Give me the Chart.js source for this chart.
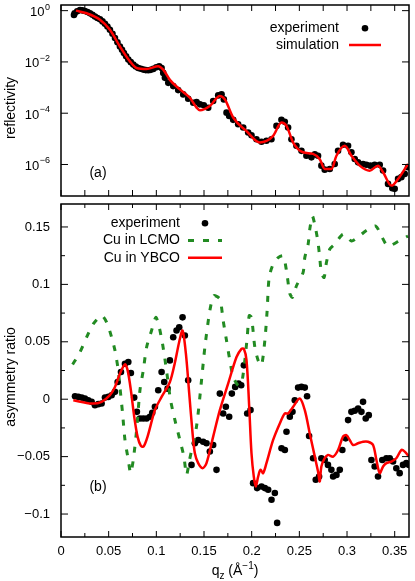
<!DOCTYPE html>
<html>
<head>
<meta charset="utf-8">
<script src="https://cdn.jsdelivr.net/npm/chart.js@4"></script>
<style>
  body { margin: 0; background: #fff; }
  canvas { position: absolute; left: 0; }
  #refl { top: 0; }
  #asym { top: 200px; }
</style>
</head>
<body>
<canvas id="refl" width="415" height="200"></canvas>
<canvas id="asym" width="415" height="381"></canvas>
<script>
// panel (a): reflectivity
const reflExpQ = [0.0136, 0.0143, 0.0170, 0.0199, 0.0225, 0.0251, 0.0278, 0.0304, 0.0330, 0.0356, 0.0382, 0.0409, 0.0435, 0.0461, 0.0487, 0.0513, 0.0540, 0.0566, 0.0592, 0.0618, 0.0640, 0.0660, 0.0683, 0.0706, 0.0732, 0.0758, 0.0784, 0.0810, 0.0837, 0.0863, 0.0889, 0.0915, 0.0941, 0.0968, 0.1000, 0.1030, 0.1055, 0.1072, 0.1090, 0.1125, 0.1177, 0.1229, 0.1282, 0.1334, 0.1387, 0.1422, 0.1457, 0.1498, 0.1544, 0.1596, 0.1649, 0.1684, 0.1708, 0.1736, 0.1764, 0.1806, 0.1858, 0.1911, 0.1963, 0.1998, 0.2050, 0.2103, 0.2155, 0.2207, 0.2260, 0.2312, 0.2347, 0.2382, 0.2417, 0.2469, 0.2522, 0.2574, 0.2627, 0.2662, 0.2696, 0.2731, 0.2766, 0.2819, 0.2871, 0.2906, 0.2958, 0.3011, 0.3046, 0.3081, 0.3116, 0.3168, 0.3203, 0.3245, 0.3290, 0.3343, 0.3378, 0.3430, 0.3475, 0.3500, 0.3535, 0.3570, 0.3605, 0.3640];
const reflExpR = [0.68, 0.79, 0.95, 1.06, 1.02, 0.97, 0.88, 0.79, 0.69, 0.59, 0.52, 0.46, 0.38, 0.305, 0.24, 0.179, 0.125, 0.085, 0.058, 0.040, 0.030, 0.0223, 0.0165, 0.0123, 0.0098, 0.00785, 0.0066, 0.00583, 0.0054, 0.00503, 0.0048, 0.00474, 0.0049, 0.00534, 0.0062, 0.00678, 0.00583, 0.00374, 0.00239, 0.00153, 0.00114, 7.96e-4, 5.41e-4, 3.67e-4, 2.57e-4, 2.73e-4, 2.21e-4, 2.03e-4, 1.64e-4, 2.98e-4, 4.94e-4, 5.41e-4, 3.46e-4, 1.05e-4, 7.8e-5, 5.5e-5, 3.7e-5, 2.76e-5, 1.77e-5, 1.39e-5, 9.7e-6, 7.7e-6, 8.4e-6, 9.7e-6, 3.2e-5, 5.5e-5, 4.6e-5, 2.76e-5, 9.7e-6, 5.4e-6, 3.4e-6, 2.2e-6, 1.9e-6, 2.5e-6, 2.2e-6, 9.0e-7, 6.3e-7, 6.7e-7, 1.04e-6, 3.4e-6, 5.9e-6, 5.4e-6, 3.0e-6, 1.63e-6, 1.21e-6, 1.04e-6, 9.8e-7, 9.0e-7, 9.8e-7, 9.8e-7, 5.8e-7, 1.75e-7, 1.19e-7, 1.12e-7, 2.74e-7, 3.2e-7, 4.3e-7, 7.8e-7];
const reflSimQ = [0.0157, 0.0269, 0.0409, 0.0513, 0.0618, 0.0723, 0.0793, 0.0898, 0.1020, 0.1072, 0.1142, 0.1247, 0.1352, 0.1422, 0.1457, 0.1561, 0.1666, 0.1718, 0.1806, 0.1946, 0.2085, 0.2155, 0.2225, 0.2313, 0.2365, 0.2435, 0.2539, 0.2644, 0.2714, 0.2767, 0.2837, 0.2889, 0.2976, 0.3046, 0.3133, 0.3238, 0.3325, 0.3378, 0.3465, 0.3535, 0.3640];
const reflSimR = [1.0, 0.79, 0.44, 0.18, 0.040, 0.0105, 0.0058, 0.0053, 0.0068, 0.0050, 0.0020, 8.5e-4, 4.0e-4, 1.65e-4, 1.3e-4, 1.9e-4, 4.7e-4, 3.5e-4, 6.8e-5, 2.0e-5, 7.2e-6, 8.3e-6, 1.3e-5, 4.3e-5, 3.2e-5, 7.2e-6, 3.0e-6, 2.6e-6, 1.6e-6, 6.7e-7, 6.7e-7, 2.2e-6, 5.4e-6, 2.2e-6, 9.0e-7, 5.7e-7, 9.0e-7, 5.0e-7, 1.5e-7, 2.7e-7, 1.05e-6];

// panel (b): asymmetry ratio
const asymExpQ = [0.0147, 0.0182, 0.0217, 0.0251, 0.0286, 0.0321, 0.0356, 0.0391, 0.0426, 0.0461, 0.0496, 0.0531, 0.0566, 0.0594, 0.0629, 0.0671, 0.0706, 0.0733, 0.0768, 0.0796, 0.0828, 0.0863, 0.0898, 0.0933, 0.0957, 0.0985, 0.1020, 0.1055, 0.1083, 0.1118, 0.1142, 0.1177, 0.1212, 0.1240, 0.1275, 0.1299, 0.1334, 0.1369, 0.1404, 0.1439, 0.1491, 0.1526, 0.1561, 0.1596, 0.1631, 0.1666, 0.1701, 0.1729, 0.1764, 0.1792, 0.1827, 0.1862, 0.1890, 0.1918, 0.1953, 0.1988, 0.2015, 0.2057, 0.2103, 0.2138, 0.2173, 0.2208, 0.2243, 0.2267, 0.2313, 0.2348, 0.2365, 0.2400, 0.2428, 0.2452, 0.2487, 0.2522, 0.2557, 0.2581, 0.2602, 0.2644, 0.2672, 0.2707, 0.2731, 0.2766, 0.2800, 0.2836, 0.2854, 0.2889, 0.2924, 0.2951, 0.2986, 0.3011, 0.3046, 0.3081, 0.3116, 0.3151, 0.3168, 0.3196, 0.3228, 0.3256, 0.3290, 0.3325, 0.3370, 0.3413, 0.3448, 0.3483, 0.3517, 0.3552, 0.3587, 0.3622, 0.3650];
const asymExpA = [0.0026, 0.0020, 0.0014, 0.0006, -0.0009, -0.0023, -0.0052, -0.0043, -0.0038, 0.0014, 0.0020, 0.0035, 0.0064, 0.0150, 0.0237, 0.0309, 0.0324, 0.0228, 0.0014, -0.0110, -0.0168, -0.0168, -0.0168, -0.0153, -0.0118, -0.0066, 0.0078, 0.0237, 0.0150, 0.0092, 0.0338, 0.0540, 0.0598, 0.0627, 0.0713, 0.0555, 0.0165, -0.0572, -0.0384, -0.0355, -0.0370, -0.0384, -0.0456, -0.0399, -0.0615, 0.0049, -0.0124, -0.0066, -0.0153, 0.0049, 0.0107, 0.0136, 0.0121, 0.0295, -0.0124, -0.0095, -0.0731, -0.0774, -0.0760, -0.0774, -0.0789, -0.0875, -0.0817, -0.1077, -0.0427, -0.0442, -0.0283, -0.0153, -0.0110, -0.0009, 0.0101, 0.0107, 0.0101, 0.0026, -0.0320, -0.0514, -0.0702, -0.0673, -0.0514, -0.0529, -0.0572, -0.0615, -0.0673, -0.0659, -0.0615, -0.0442, -0.0341, -0.0182, -0.0110, -0.0100, -0.0081, -0.0110, -0.0023, -0.0168, -0.0139, -0.0529, -0.0586, -0.0673, -0.0529, -0.0514, -0.0514, -0.0543, -0.0601, -0.0644, -0.0572, -0.0557, -0.0572];
const lcmoQ = [0.0122, 0.0199, 0.0269, 0.0339, 0.0426, 0.0479, 0.0531, 0.0566, 0.0601, 0.0618, 0.0646, 0.0671, 0.0706, 0.0730, 0.0758, 0.0793, 0.0828, 0.0863, 0.0898, 0.0950, 0.0995, 0.1030, 0.1065, 0.1097, 0.1125, 0.1149, 0.1195, 0.1247, 0.1289, 0.1317, 0.1348, 0.1421, 0.1474, 0.1509, 0.1561, 0.1603, 0.1666, 0.1701, 0.1736, 0.1771, 0.1806, 0.1858, 0.1893, 0.1928, 0.1953, 0.1974, 0.1998, 0.2033, 0.2068, 0.2103, 0.2138, 0.2162, 0.2183, 0.2225, 0.2278, 0.2330, 0.2365, 0.2400, 0.2428, 0.2470, 0.2539, 0.2557, 0.2592, 0.2609, 0.2637, 0.2672, 0.2696, 0.2714, 0.2731, 0.2759, 0.2784, 0.2819, 0.2871, 0.2960, 0.3046, 0.3116, 0.3203, 0.3301, 0.3361, 0.3430, 0.3570, 0.3640];
const lcmoA = [0.0303, 0.0410, 0.0540, 0.0656, 0.0728, 0.0670, 0.0540, 0.0425, 0.0251, 0.0107, -0.0124, -0.0355, -0.0529, -0.0644, -0.0529, -0.0269, 0.0078, 0.0251, 0.0453, 0.0598, 0.0713, 0.0627, 0.0482, 0.0309, 0.0136, -0.0009, -0.0182, -0.0355, -0.0500, -0.0659, -0.0529, -0.0240, 0.0165, 0.0453, 0.0771, 0.0901, 0.0872, 0.0685, 0.0511, 0.0338, 0.0194, 0.0121, 0.0136, 0.0338, 0.0540, 0.0728, 0.0713, 0.0453, 0.0338, 0.0295, 0.0511, 0.0771, 0.1060, 0.1176, 0.1233, 0.1248, 0.1118, 0.0920, 0.0887, 0.0988, 0.1103, 0.1233, 0.1349, 0.1479, 0.1594, 0.1479, 0.1363, 0.1233, 0.1103, 0.1060, 0.1190, 0.1306, 0.1349, 0.1436, 0.1378, 0.1412, 0.1470, 0.1508, 0.1421, 0.1334, 0.1392, 0.1421];
const ybcoQ = [0.0129, 0.0321, 0.0426, 0.0513, 0.0566, 0.0618, 0.0671, 0.0699, 0.0733, 0.0768, 0.0803, 0.0838, 0.0866, 0.0908, 0.0985, 0.1055, 0.1142, 0.1195, 0.1240, 0.1275, 0.1310, 0.1345, 0.1380, 0.1404, 0.1439, 0.1485, 0.1526, 0.1596, 0.1666, 0.1753, 0.1841, 0.1893, 0.1918, 0.1946, 0.1974, 0.1998, 0.2022, 0.2043, 0.2068, 0.2092, 0.2120, 0.2155, 0.2225, 0.2295, 0.2347, 0.2382, 0.2435, 0.2504, 0.2557, 0.2609, 0.2662, 0.2696, 0.2714, 0.2731, 0.2766, 0.2800, 0.2854, 0.2906, 0.2958, 0.2993, 0.3028, 0.3063, 0.3116, 0.3168, 0.3220, 0.3273, 0.3308, 0.3343, 0.3378, 0.3413, 0.3465, 0.3517, 0.3570, 0.3605, 0.3650];
const ybcoA = [-0.0009, -0.0038, -0.0023, 0.0035, 0.0107, 0.0222, 0.0303, 0.0251, 0.0078, -0.0153, -0.0326, -0.0407, -0.0413, -0.0326, -0.0095, 0.0020, 0.0150, 0.0320, 0.0500, 0.0598, 0.0396, 0.0049, -0.0298, -0.0471, -0.0557, -0.0601, -0.0557, -0.0326, -0.0095, 0.0136, 0.0367, 0.0439, 0.0439, 0.0338, -0.0066, -0.0471, -0.0673, -0.0760, -0.0673, -0.0615, -0.0644, -0.0557, -0.0355, -0.0211, -0.0124, -0.0124, -0.0066, 0.0006, -0.0095, -0.0298, -0.0500, -0.0630, -0.0716, -0.0586, -0.0514, -0.0485, -0.0500, -0.0442, -0.0326, -0.0312, -0.0355, -0.0399, -0.0384, -0.0370, -0.0370, -0.0399, -0.0529, -0.0644, -0.0586, -0.0557, -0.0543, -0.0514, -0.0442, -0.0456, -0.0500];

// ticks
const qMajor = [0, 0.05, 0.1, 0.15, 0.2, 0.25, 0.3, 0.35];
const qMinor = [0.025, 0.075, 0.125, 0.175, 0.225, 0.275, 0.325];
const reflTicks = [1, 1e-2, 1e-4, 1e-6];
const reflExp = ['0', '\u22122', '\u22124', '\u22126'];
const asymMajor = [-0.1, -0.05, 0, 0.05, 0.1, 0.15];
const asymMinor = [-0.075, -0.025, 0.025, 0.075, 0.125];

const pts = (xs, ys) => xs.map((x, i) => ({ x: x, y: ys[i] }));
const FONT = '"Liberation Sans", Arial, sans-serif';
const RED = 'rgb(255, 0, 0)';
const GREEN = 'rgb(34, 139, 34)';

// gnuplot-like frame, inward ticks, key and extra labels
const gnuplotDecor = {
  id: 'gnuplotDecor',
  afterDatasetsDraw(chart, args, o) {
    const { ctx, chartArea: a } = chart;
    const xs = chart.scales.x, ys = chart.scales.y;
    ctx.save();
    ctx.strokeStyle = '#000';
    ctx.fillStyle = '#000';
    ctx.lineWidth = 1;
    ctx.beginPath();
    const xt = (v, len) => {
      const px = xs.getPixelForValue(v);
      ctx.moveTo(px, a.bottom); ctx.lineTo(px, a.bottom - len);
      ctx.moveTo(px, a.top); ctx.lineTo(px, a.top + len);
    };
    const yt = (v, len) => {
      const py = ys.getPixelForValue(v);
      ctx.moveTo(a.left, py); ctx.lineTo(a.left + len, py);
      ctx.moveTo(a.right, py); ctx.lineTo(a.right - len, py);
    };
    qMajor.forEach(v => xt(v, 6));
    qMinor.forEach(v => xt(v, o.minorX));
    (o.yMajor || []).forEach(v => yt(v, 7));
    (o.yMinor || []).forEach(v => yt(v, 4));
    ctx.stroke();
    ctx.lineWidth = 1.5;
    ctx.strokeRect(a.left, a.top, a.width, a.height);

    // key
    const k = o.key;
    ctx.font = '14px ' + FONT;
    ctx.textBaseline = 'middle';
    chart.data.datasets.forEach((ds, i) => {
      const y = k.y + i * k.dy;
      ctx.textAlign = 'right';
      ctx.fillStyle = '#000';
      ctx.fillText(ds.label, k.right, y);
      if (ds.showLine) {
        ctx.strokeStyle = ds.borderColor;
        ctx.lineWidth = ds.borderWidth;
        ctx.setLineDash(ds.borderDash || []);
        ctx.beginPath();
        ctx.moveTo(k.sx, y); ctx.lineTo(k.sx + k.sw, y);
        ctx.stroke();
        ctx.setLineDash([]);
      } else {
        ctx.beginPath();
        ctx.arc(k.sx + k.sw / 2, y, ds.pointRadius, 0, Math.PI * 2);
        ctx.fillStyle = ds.backgroundColor;
        ctx.fill();
      }
    });

    // panel label
    ctx.fillStyle = '#000';
    ctx.textAlign = 'center';
    ctx.fillText(o.panel.text, o.panel.x, o.panel.y);

    // y title
    ctx.save();
    ctx.translate(o.yTitle.x, o.yTitle.y);
    ctx.rotate(-Math.PI / 2);
    ctx.textBaseline = 'alphabetic';
    ctx.fillText(o.yTitle.text, 0, 0);
    ctx.restore();

    // log axis labels 10^n
    if (o.logLabels) {
      ctx.textAlign = 'right';
      ctx.textBaseline = 'alphabetic';
      reflTicks.forEach((v, i) => {
        const py = ys.getPixelForValue(v);
        ctx.font = '9px ' + FONT;
        const w = ctx.measureText(reflExp[i]).width;
        ctx.fillText(reflExp[i], 50, py - 1);
        ctx.font = '13px ' + FONT;
        ctx.fillText('10', 50 - w - 0.5, py + 5.5);
      });
    }

    // x title q_z (Å^-1)
    if (o.xTitle) {
      const parts = [['q', 14, 0], ['z', 10, 4], [' (\u00c5', 14, 0], ['\u22121', 10, -6], [')', 14, 0]];
      let total = 0;
      parts.forEach(p => { ctx.font = p[1] + 'px ' + FONT; total += ctx.measureText(p[0]).width; });
      let x = o.xTitle.x - total / 2;
      ctx.textAlign = 'left';
      ctx.textBaseline = 'alphabetic';
      parts.forEach(p => {
        ctx.font = p[1] + 'px ' + FONT;
        ctx.fillText(p[0], x, o.xTitle.y + p[2]);
        x += ctx.measureText(p[0]).width;
      });
    }
    ctx.restore();
  }
};

// keep the plot box fixed: no extra room for overhanging tick labels
const noPad = (s) => {
  s.paddingTop = 0; s.paddingBottom = 0; s.paddingLeft = 0; s.paddingRight = 0;
};

// eslint-disable-next-line no-undef
new Chart(document.getElementById('refl'), {
  type: 'scatter',
  data: {
    datasets: [
      {
        label: 'experiment',
        data: pts(reflExpQ, reflExpR),
        backgroundColor: '#000',
        borderWidth: 0,
        pointRadius: 3.3,
        showLine: false,
        order: 2,
      },
      {
        label: 'simulation',
        data: pts(reflSimQ, reflSimR),
        borderColor: RED,
        borderWidth: 2.5,
        pointRadius: 0,
        showLine: true,
        cubicInterpolationMode: 'monotone',
        order: 1,
      },
    ],
  },
  options: {
    responsive: false,
    animation: false,
    events: [],
    layout: { padding: { left: 0, right: 6, top: 5, bottom: 3 } },
    scales: {
      x: { type: 'linear', min: 0, max: 0.365, display: false },
      y: {
        type: 'logarithmic',
        min: 5.9e-8,
        max: 1.66,
        grid: { display: false, drawTicks: false },
        border: { display: false },
        ticks: { display: false },
        afterFit: (s) => { s.width = 61; noPad(s); },
      },
    },
    plugins: {
      legend: { display: false },
      tooltip: { enabled: false },
      gnuplotDecor: {
        minorX: 6,
        yMajor: reflTicks,
        key: { right: 339, y: 28.3, dy: 16.7, sx: 349, sw: 32 },
        panel: { text: '(a)', x: 98, y: 173 },
        yTitle: { text: 'reflectivity', x: 15, y: 108 },
        logLabels: true,
      },
    },
  },
  plugins: [gnuplotDecor],
});

// eslint-disable-next-line no-undef
new Chart(document.getElementById('asym'), {
  type: 'scatter',
  data: {
    datasets: [
      {
        label: 'experiment',
        data: pts(asymExpQ, asymExpA),
        backgroundColor: '#000',
        borderWidth: 0,
        pointRadius: 3.3,
        showLine: false,
        order: 3,
      },
      {
        label: 'Cu in LCMO',
        data: pts(lcmoQ, lcmoA),
        borderColor: GREEN,
        borderWidth: 3,
        borderDash: [6, 9],
        pointRadius: 0,
        showLine: true,
        tension: 0.25,
        order: 2,
      },
      {
        label: 'Cu in YBCO',
        data: pts(ybcoQ, ybcoA),
        borderColor: RED,
        borderWidth: 2.5,
        pointRadius: 0,
        showLine: true,
        tension: 0.3,
        order: 1,
      },
    ],
  },
  options: {
    responsive: false,
    animation: false,
    events: [],
    layout: { padding: { left: 0, right: 6, top: 3, bottom: 0 } },
    scales: {
      x: {
        type: 'linear',
        min: 0,
        max: 0.365,
        grid: { display: false, drawTicks: false },
        border: { display: false },
        ticks: {
          stepSize: 0.05,
          padding: 7,
          color: '#000',
          font: { family: FONT, size: 13 },
          maxRotation: 0,
          autoSkip: false,
          callback: (v) => String(Number(v.toFixed(3))),
        },
        afterBuildTicks: (s) => { s.ticks = qMajor.map(v => ({ value: v })); },
        afterFit: (s) => { s.height = 44; noPad(s); },
      },
      y: {
        type: 'linear',
        min: -0.12,
        max: 0.17,
        grid: { display: false, drawTicks: false },
        border: { display: false },
        ticks: {
          padding: 11,
          color: '#000',
          font: { family: FONT, size: 13 },
          autoSkip: false,
          callback: (v) => String(Number(v.toFixed(3))).replace('-', '\u2212'),
        },
        afterBuildTicks: (s) => { s.ticks = asymMajor.map(v => ({ value: v })); },
        afterFit: (s) => { s.width = 61; noPad(s); },
      },
    },
    plugins: {
      legend: { display: false },
      tooltip: { enabled: false },
      gnuplotDecor: {
        minorX: 4,
        yMajor: asymMajor,
        yMinor: asymMinor,
        key: { right: 180, y: 23.3, dy: 17.2, sx: 188, sw: 34 },
        panel: { text: '(b)', x: 98, y: 287.5 },
        yTitle: { text: 'asymmetry ratio', x: 15, y: 177 },
        xTitle: { x: 235, y: 375 },
      },
    },
  },
  plugins: [gnuplotDecor],
});
</script>
</body>
</html>
